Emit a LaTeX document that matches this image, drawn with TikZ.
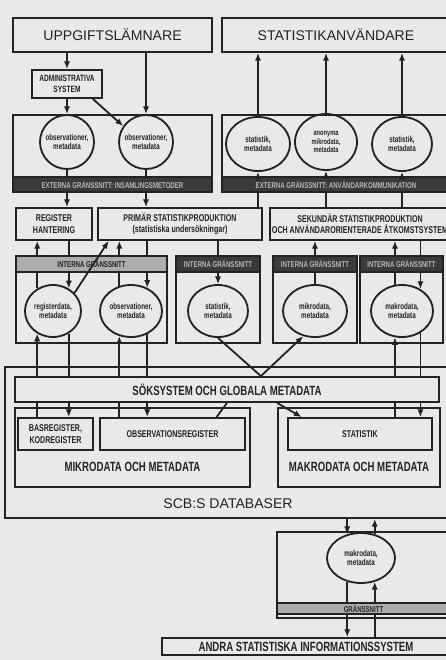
\documentclass[tikz,border=0pt]{standalone}
\usepackage{fontspec}
\setmainfont{Liberation Sans}
\newfontfamily\smalfont[FakeStretch=0.72]{Liberation Sans}
\usetikzlibrary{arrows.meta,calc,shapes.geometric}
\definecolor{papper}{RGB}{233,233,233}
\definecolor{linje}{RGB}{35,35,35}
\definecolor{mork}{RGB}{58,58,58}
\definecolor{ljus}{RGB}{172,172,172}

\tikzset{
  ruta/.style 2 args={draw, minimum width=#1*0.025cm, minimum height=#2*0.025cm,
    inner sep=0pt, align=center, font=\smalfont\bfseries\fontsize{7}{8}\selectfont},
  rubrik/.style={font=\fontsize{10}{12}\selectfont},
  stortext/.style={font=\smalfont\bfseries\fontsize{9.5}{11}\selectfont},
  ellips/.style 2 args={ellipse, draw, minimum width=#1*0.025cm, minimum height=#2*0.025cm,
    inner sep=-3pt, align=center, font=\smalfont\bfseries\fontsize{6.2}{6.8}\selectfont},
  remsa/.style 2 args={ruta={#1}{#2}, fill=mork, text=gray!55,
    font=\smalfont\bfseries\fontsize{6}{7}\selectfont},
  ljusremsa/.style 2 args={ruta={#1}{#2}, fill=ljus, text=linje,
    font=\smalfont\bfseries\fontsize{6}{7}\selectfont},
}

\begin{document}
\begin{tikzpicture}[x=0.025cm, y=-0.025cm, line width=1.3pt, color=linje,
    >={Latex[length=5.5pt,width=4.5pt]}]
        % Papper
        \useasboundingbox (0,0) rectangle (446,660);
        \fill[papper] (0,0) rectangle (446,660);

        % Aktörer
        \node[ruta={199}{34}, rubrik] (uppg) at (112.5,35) {UPPGIFTSLÄMNARE};
        \node[ruta={228}{34}, rubrik] (anv) at (336,35) {STATISTIKANVÄNDARE};
        \node[ruta={70}{28}, font=\smalfont\bfseries\fontsize{6.5}{7.5}\selectfont] (admin) at (67,84) {ADMINISTRATIVA\\SYSTEM};

        % Externa gränssnitt
        \node[ruta={199}{77}] (extL) at (112.5,153.5) {};
        \node[remsa={199}{15}] (stripL) at (112.5,184.5) {EXTERNA GRÄNSSNITT: INSAMLINGSMETODER};
        \node[ruta={228}{77}] (extR) at (336,153.5) {};
        \node[remsa={228}{15}] (stripR) at (336,184.5) {EXTERNA GRÄNSSNITT: ANVÄNDARKOMMUNIKATION};
        \node[ellips={54}{54}] (obsE1) at (67,142) {observationer,\\metadata};
        \node[ellips={54}{54}] (obsE2) at (146,142) {observationer,\\metadata};
        \node[ellips={64}{54}] (statE1) at (258,144) {statistik,\\metadata};
        \node[ellips={62}{56}, font=\smalfont\bfseries\fontsize{5.6}{6}\selectfont, inner sep=-4pt] (anonE) at (326,142) {anonyma\\mikrodata,\\metadata};
        \node[ellips={60}{54}] (statE2) at (402,144) {statistik,\\metadata};

        % Produktion
        \node[ruta={76}{32}] (register) at (54,224) {REGISTER\\HANTERING};
        \node[ruta={164}{32}] (primar) at (180,224) {PRIMÄR STATISTIKPRODUKTION\\(statistiska undersökningar)};
        \node[ruta={180}{32}] (sekundar) at (360,224) {SEKUNDÄR STATISTIKPRODUKTION\\OCH ANVÄNDARORIENTERADE ÅTKOMSTSYSTEM};

        % Interna gränssnitt
        \node[ruta={151}{87}] (intL) at (91.5,299.5) {};
        \node[ljusremsa={151}{16}] (stripIL) at (91.5,264) {INTERNA GRÄNSSNITT};
        \node[ruta={84}{87}] (int2) at (218,299.5) {};
        \node[remsa={84}{16}] (strip2) at (218,264) {INTERNA GRÄNSSNITT};
        \node[ruta={84}{87}] (int3) at (315,299.5) {};
        \node[remsa={84}{16}] (strip3) at (315,264) {INTERNA GRÄNSSNITT};
        \node[ruta={83}{87}] (int4) at (401.5,299.5) {};
        \node[remsa={83}{16}] (strip4) at (401.5,264) {INTERNA GRÄNSSNITT};
        \node[ellips={56}{52}] (regE) at (53,311) {registerdata,\\metadata};
        \node[ellips={62}{52}] (obsE3) at (131,311) {observationer,\\metadata};
        \node[ellips={60}{52}] (statE3) at (218,311) {statistik,\\metadata};
        \node[ellips={64}{52}] (mikroE) at (315,311) {mikrodata,\\metadata};
        \node[ellips={62}{52}] (makroE) at (402,311) {makrodata,\\metadata};

        % Databaser
        \node[ruta={445}{151}] (db) at (227.5,442.5) {};
        \node[ruta={424}{25}, stortext] (sok) at (227,389.5) {SÖKSYSTEM OCH GLOBALA METADATA};
        \node[ruta={235}{79}] (mikro) at (132.5,447.5) {};
        \node[ruta={75}{32}] (bas) at (55.5,434) {BASREGISTER,\\KODREGISTER};
        \node[ruta={145}{32}] (obsreg) at (172.5,434) {OBSERVATIONSREGISTER};
        \node[ruta={162}{79}] (makro) at (359,447.5) {};
        \node[ruta={144}{32}] (statistik) at (360,434) {STATISTIK};
        \node[stortext] (mikrotext) at (132.5,467) {MIKRODATA OCH METADATA};
        \node[stortext] (makrotext) at (359,467) {MAKRODATA OCH METADATA};
        \node[rubrik] (dbtext) at (228,504) {SCB:S DATABASER};

        % Andra system
        \node[ruta={173}{86}] (grans) at (363.5,575) {};
        \node[ljusremsa={173}{11}] (stripG) at (363.5,608.5) {GRÄNSSNITT};
        \node[ellips={68}{50}] (makroE2) at (361,558) {makrodata,\\metadata};
        \node[ruta={288}{17}, stortext] (andra) at (306,646.5) {ANDRA STATISTISKA INFORMATIONSSYSTEM};

        % Pilar överst
        \draw[->] (uppg.south -| admin.north) -- (admin.north);
        \draw[->] (admin.south) -- (obsE1.north);
        \draw[->] (admin.-30) -- (obsE2.145);
        \draw[->] (uppg.south -| obsE2.north) -- (obsE2.north);
        \draw[->] (statE1.north) -- (anv.south -| statE1.north);
        \draw[->] (anonE.north) -- (anv.south -| anonE.north);
        \draw[->] (statE2.north) -- (anv.south -| statE2.north);

        % Genom externa gränssnitt
        \draw (obsE1.south) -- (stripL.north -| obsE1.south);
        \draw[->] (stripL.south -| obsE1.south) -- (register.north -| obsE1.south);
        \draw (obsE2.south) -- (stripL.north -| obsE2.south);
        \draw[->] (stripL.south -| obsE2.south) -- (primar.north -| obsE2.south);
        \draw (primar.north -| statE1.south) -- (stripR.south -| statE1.south);
        \draw[->] (stripR.north -| statE1.south) -- (statE1.south);
        \draw (sekundar.north -| anonE.south) -- (stripR.south -| anonE.south);
        \draw[->] (stripR.north -| anonE.south) -- (anonE.south);
        \draw (sekundar.north -| statE2.south) -- (stripR.south -| statE2.south);
        \draw[->] (stripR.north -| statE2.south) -- (statE2.south);

        % Genom interna gränssnitt
        \draw[->] (stripIL.north -| regE.125) -- (register.south -| regE.125);
        \draw (stripIL.south -| regE.125) -- (regE.125);
        \draw (register.south -| regE.55) -- (stripIL.north -| regE.55);
        \draw[->] (stripIL.south -| regE.55) -- (regE.55);
        \draw[->] (regE.40) -- ($(primar.south west)!0.07!(primar.south east)$);
        \draw[->] (stripIL.north -| obsE3.115) -- (primar.south -| obsE3.115);
        \draw (stripIL.south -| obsE3.115) -- (obsE3.115);
        \draw (primar.south -| obsE3.55) -- (stripIL.north -| obsE3.55);
        \draw[->] (stripIL.south -| obsE3.55) -- (obsE3.55);
        \draw (primar.south -| statE3.north) -- (strip2.north -| statE3.north);
        \draw[->] (strip2.south -| statE3.north) -- (statE3.north);
        \draw (mikroE.north) -- (strip3.south -| mikroE.north);
        \draw[->] (strip3.north -| mikroE.north) -- (sekundar.south -| mikroE.north);
        \draw (makroE.105) -- (strip4.south -| makroE.105);
        \draw[->] (strip4.north -| makroE.105) -- (sekundar.south -| makroE.105);
        \draw (sekundar.south -| makroE.50) -- (strip4.north -| makroE.50);
        \draw[->] (strip4.south -| makroE.50) -- (makroE.50);

        % Mot databaserna
        \draw (bas.north -| regE.235) -- (sok.south -| regE.235);
        \draw[->] (sok.north -| regE.235) -- (regE.235);
        \draw (regE.305) -- (sok.north -| regE.305);
        \draw[->] (sok.south -| regE.305) -- (bas.north -| regE.305);
        \draw (obsreg.north -| obsE3.245) -- (sok.south -| obsE3.245);
        \draw[->] (sok.north -| obsE3.245) -- (obsE3.245);
        \draw (obsE3.305) -- (sok.north -| obsE3.305);
        \draw[->] (sok.south -| obsE3.305) -- (obsreg.north -| obsE3.305);
        \draw (statE3.south) -- (sok.north -| int2.south east);
        \draw[->] (sok.north -| int2.south east) -- (mikroE.245);
        \draw ($(obsreg.north east)!0.2!(obsreg.north west)$) -- (sok.south);
        \draw[->] (sok.south -| makro.north west) -- ($(statistik.north west)!0.1!(statistik.north east)$);
        \draw (statistik.north -| makroE.255) -- (sok.south -| makroE.255);
        \draw[->] (sok.north -| makroE.255) -- (makroE.255);
        \draw (makroE.310) -- (sok.north -| makroE.310);
        \draw[->] (sok.south -| makroE.310) -- (statistik.north -| makroE.310);

        % Nederst
        \draw[->] (db.south -| makroE2.120) -- (makroE2.120);
        \draw[->] (makroE2.60) -- (db.south -| makroE2.60);
        \draw (makroE2.240) -- (stripG.north -| makroE2.240);
        \draw[->] (stripG.south -| makroE2.240) -- (andra.north -| makroE2.240);
        \draw (andra.north -| makroE2.300) -- (stripG.south -| makroE2.300);
        \draw[->] (stripG.north -| makroE2.300) -- (makroE2.300);

\end{tikzpicture}
\end{document}
